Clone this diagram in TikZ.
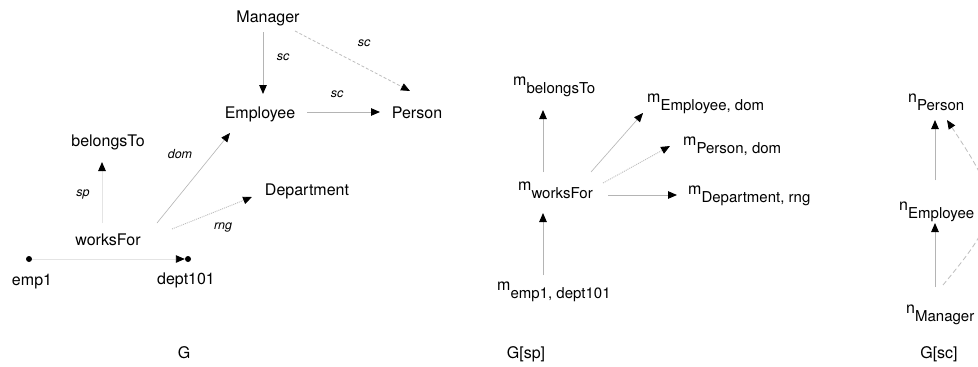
\documentclass[tikz,border=0pt]{standalone}
\usepackage{fontspec}
\setmainfont{TeX Gyre Heros}
\usetikzlibrary{arrows.meta}
\definecolor{edgegray}{HTML}{B4B4B4}
\definecolor{dashgray}{HTML}{BEBEBE}
\definecolor{faintgray}{HTML}{E4E4E4}
% name with a lowered index, as in m_{worksFor}
\newcommand\idxname[2]{#1\raisebox{-8.5pt}{\fontsize{15}{18}\selectfont #2}}
\begin{document}
\begin{tikzpicture}[x=1pt,y=-1pt,
  lbl/.style={font=\fontsize{16}{19}\selectfont, inner sep=0pt, anchor=base},
  sublbl/.style={font=\fontsize{16}{19}\selectfont, inner sep=0pt, anchor=base west},
  elbl/.style={font=\fontsize{12.5}{15}\selectfont\itshape, inner sep=0pt},
  tip/.style={-{Triangle[length=9pt,width=7.5pt,color=black]}},
  arr/.style={tip, draw=edgegray, line width=0.9pt},
  thinarr/.style={tip, draw=edgegray, line width=0.6pt},
  dasharr/.style={tip, draw=dashgray, line width=0.8pt, dash pattern=on 3pt off 2pt},
  dotarr/.style={tip, draw=dashgray, line width=0.9pt, dash pattern=on 1pt off 1pt},
  faintarr/.style={tip, draw=faintgray, line width=0.9pt},
  dot/.style={circle, fill=black, inner sep=0pt, minimum size=6pt}]
\useasboundingbox (0,0) rectangle (978,367);
\fill[white] (0,0) rectangle (978,367);

% ---- graph G ----
\node[lbl] (manager) at (268,22) {Manager};
\node[lbl] (employee) at (260,118) {Employee};
\node[lbl] (person) at (417,118) {Person};
\node[lbl] (belongsto) at (108,146) {belongsTo};
\node[lbl] (department) at (307,195) {Department};
\node[lbl] (worksfor) at (108,245) {worksFor};
\node[dot] (emp1dot) at (29,259) {};
\node[dot] (deptdot) at (188,259) {};
\node[lbl] (emp1) at (32,285) {emp1};
\node[lbl] (dept101) at (186,284) {dept101};
\node[lbl] (gcap) at (184,358) {G};

\draw[arr] ([shift={(-5,10)}]manager.base) -- ([shift={(3,-24)}]employee.base);
\draw[dasharr] ([shift={(27,9)}]manager.base) -- ([shift={(-7,-27)}]person.base);
\draw[arr] ([shift={(47,-6)}]employee.base) -- ([shift={(-37,-6)}]person.base);
\draw[faintarr] ([shift={(-6,-22)}]worksfor.base) -- ([shift={(-6,16)}]belongsto.base);
\draw[thinarr] ([shift={(49,-22)}]worksfor.base) -- ([shift={(-30,15)}]employee.base);
\draw[dotarr] ([shift={(64,-16)}]worksfor.base) -- ([shift={(-55,2)}]department.base);
\draw[faintarr] (emp1dot) -- (deptdot);

\node[elbl] (scA) at (283,57) {sc};
\node[elbl] (scB) at (364,43) {sc};
\node[elbl] (scC) at (337,94) {sc};
\node[elbl] (domlbl) at (180,154) {dom};
\node[elbl] (splbl) at (83,194) {sp};
\node[elbl] (rnglbl) at (223,227) {rng};

% ---- graph G[sp] ----
\node[sublbl] (mbelongs) at (513,85) {\idxname{m}{belongsTo}};
\node[sublbl] (mempdom) at (647,102) {\idxname{m}{Employee, dom}};
\node[sublbl] (mpersdom) at (683,145) {\idxname{m}{Person, dom}};
\node[sublbl] (mworks) at (518,190) {\idxname{m}{worksFor}};
\node[sublbl] (mdeptrng) at (688,194) {\idxname{m}{Department, rng}};
\node[sublbl] (mempdept) at (497,290) {\idxname{m}{emp1, dept101}};
\node[lbl] (gspcap) at (526,358) {G[sp]};

\draw[arr] ([shift={(25,-18)}]mworks.base west) -- ([shift={(30,25)}]mbelongs.base west);
\draw[thinarr] ([shift={(73,-18)}]mworks.base west) -- ([shift={(-4,11)}]mempdom.base west);
\draw[dotarr] ([shift={(85,-7)}]mworks.base west) -- ([shift={(-13,1)}]mpersdom.base west);
\draw[arr] ([shift={(90,5)}]mworks.base west) -- ([shift={(-11,1)}]mdeptrng.base west);
\draw[arr] ([shift={(46,-15)}]mempdept.base west) -- ([shift={(25,23)}]mworks.base west);

% ---- graph G[sc] ----
\node[sublbl] (nperson) at (908,102) {\idxname{n}{Person}};
\node[sublbl] (nemployee) at (899,210) {\idxname{n}{Employee}};
\node[sublbl] (nmanager) at (906,313) {\idxname{n}{Manager}};
\node[lbl] (gsccap) at (939,358) {G[sc]};

\draw[arr] ([shift={(36,-30)}]nemployee.base west) -- ([shift={(27,18)}]nperson.base west);
\draw[arr] ([shift={(29,-26)}]nmanager.base west) -- ([shift={(36,13)}]nemployee.base west);
\draw[tip, draw=dashgray, line width=0.8pt, dash pattern=on 5pt off 3pt]
  ([shift={(37,-28)}]nmanager.base west) .. controls (1003,213) and (1002,203) ..
  ([shift={(39,18)}]nperson.base west);
\end{tikzpicture}
\end{document}
